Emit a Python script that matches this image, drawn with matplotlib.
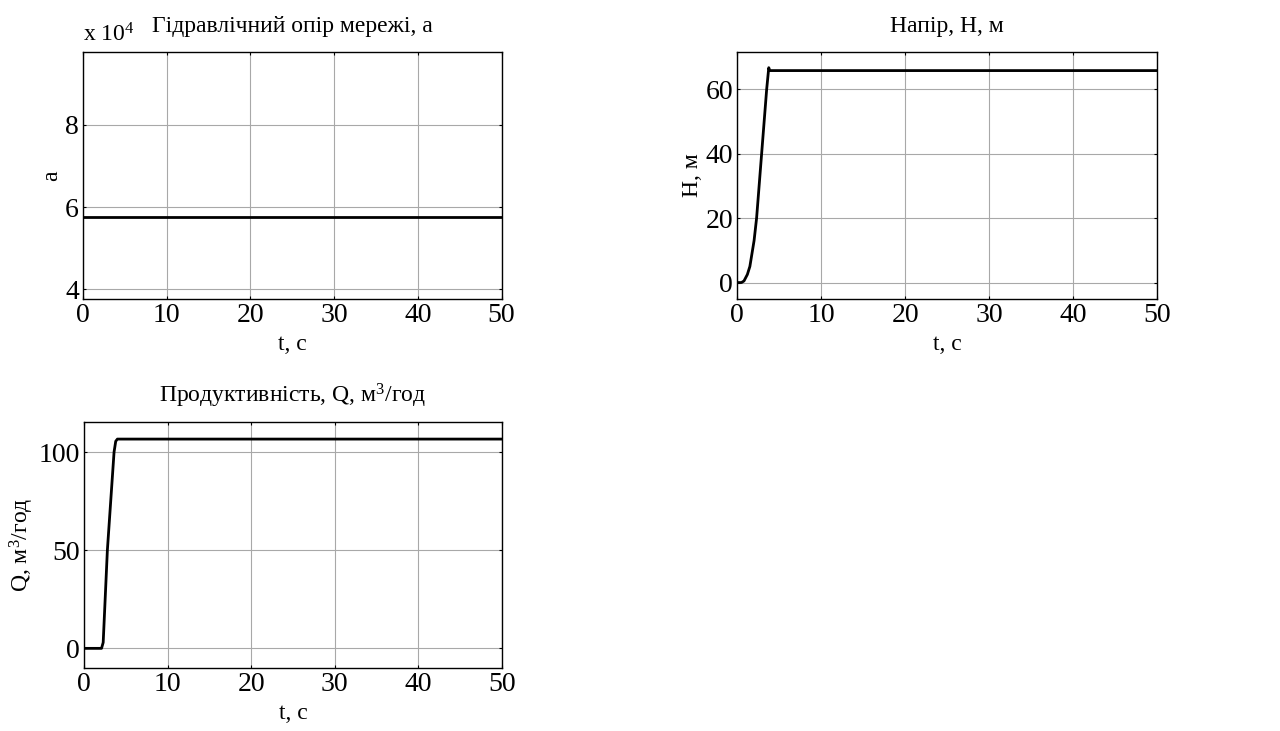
import matplotlib
matplotlib.use("Agg")
import matplotlib.pyplot as plt

plt.rcParams.update({
    "font.family": "Liberation Serif",
    "mathtext.fontset": "custom",
    "mathtext.rm": "Liberation Serif",
    "mathtext.it": "Liberation Serif:italic",
    "xtick.direction": "in",
    "ytick.direction": "in",
    "xtick.top": True,
    "ytick.right": True,
    "xtick.major.size": 2.5,
    "ytick.major.size": 2.5,
    "axes.linewidth": 1.0,
})

# network hydraulic resistance, constant over the run
t_a = [0, 50]
a_vals = [57600, 57600]

# pump head
t_h = [0, 0.5, 0.8, 1.2, 1.5, 2.0, 2.3, 2.9, 3.5, 3.75, 3.85, 50]
h_vals = [0, 0, 0.5, 2.5, 5, 13, 20, 40, 60, 66.7, 65.8, 65.8]

# pump flow rate
t_q = [0, 2.1, 2.3, 2.8, 3.6, 3.8, 4.0, 50]
q_vals = [0, 0, 3, 50, 100, 105.5, 106.6, 106.6]

x_ticks = [0, 10, 20, 30, 40, 50]
a_ticks = [4, 6, 8]
h_ticks = [0, 20, 40, 60]
q_ticks = [0, 50, 100]

TICK_FS = 20
LABEL_FS = 17


def style_axes(ax):
    ax.set_xlim(0, 50)
    ax.set_xticks(x_ticks)
    ax.grid(True, color="#a8a8a8", lw=0.8)
    ax.tick_params(labelsize=TICK_FS, pad=3)
    ax.set_xlabel("t, с", fontsize=LABEL_FS, labelpad=4)


fig = plt.figure(figsize=(12.8, 7.31), dpi=100)

# ---- network resistance ----
ax1 = fig.add_axes([0.0648, 0.591, 0.327, 0.338])
ax1.plot(t_a, [v / 1e4 for v in a_vals], color="black", lw=2)
style_axes(ax1)
ax1.set_ylim(3.76, 9.78)
ax1.set_yticks(a_ticks)
ax1.set_ylabel("а", fontsize=LABEL_FS, labelpad=2)
ax1.set_title("Гідравлічний опір мережі, а", fontsize=LABEL_FS, pad=14)
ax1.text(0.0, 1.02, r"x 10$^{4}$", transform=ax1.transAxes,
         fontsize=LABEL_FS, ha="left", va="bottom")

# ---- head ----
ax2 = fig.add_axes([0.576, 0.591, 0.328, 0.338])
ax2.plot(t_h, h_vals, color="black", lw=2)
style_axes(ax2)
ax2.set_ylim(-5.1, 71.6)
ax2.set_yticks(h_ticks)
ax2.set_ylabel("Н, м", fontsize=LABEL_FS, labelpad=2)
ax2.set_title("Напір, Н, м", fontsize=LABEL_FS, pad=14)

# ---- flow rate ----
ax3 = fig.add_axes([0.0656, 0.0862, 0.3265, 0.3365])
ax3.plot(t_q, q_vals, color="black", lw=2)
style_axes(ax3)
ax3.set_ylim(-10, 115.3)
ax3.set_yticks(q_ticks)
ax3.set_ylabel(r"Q, м$^{3}$/год", fontsize=LABEL_FS, labelpad=2)
ax3.set_title(r"Продуктивність, Q, м$^{3}$/год", fontsize=LABEL_FS, pad=14)

fig.savefig("out.png", dpi=100)
